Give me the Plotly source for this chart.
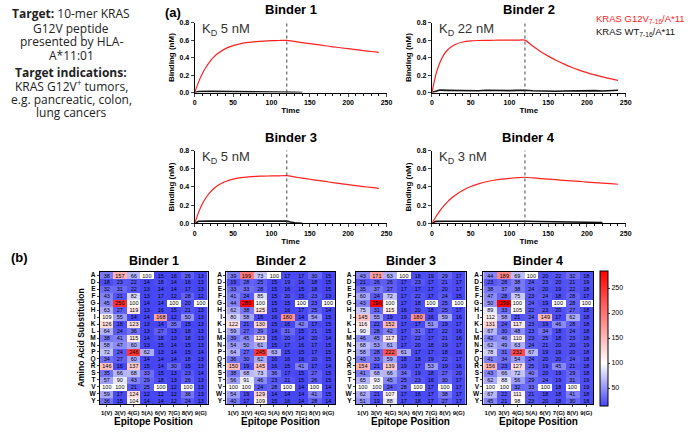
import plotly.graph_objects as go

W, H = 692, 433

# ---------------- data ----------------
amino_acids = ["A", "D", "E", "F", "G", "H", "I", "K", "L", "M", "N", "P", "Q", "R", "S", "T", "V", "W", "Y"]
positions = ["1(V)", "3(V)", "4(G)", "5(A)", "6(V)", "7(G)", "8(V)", "9(G)"]

binder1_heat = [
    [38, 157, 66, 100, 15, 16, 26, 13],
    [18, 23, 22, 14, 18, 14, 16, 13],
    [32, 31, 22, 13, 14, 14, 17, 13],
    [43, 21, 82, 13, 17, 12, 28, 12],
    [45, 250, 100, 14, 14, 100, 20, 100],
    [63, 27, 119, 13, 16, 15, 21, 13],
    [109, 55, 14, 14, 168, 12, 50, 13],
    [126, 18, 123, 13, 14, 35, 15, 13],
    [64, 24, 36, 13, 27, 13, 18, 13],
    [38, 41, 115, 14, 18, 13, 18, 13],
    [58, 47, 60, 13, 15, 14, 15, 13],
    [72, 24, 246, 62, 13, 14, 15, 14],
    [34, 27, 60, 14, 14, 14, 18, 13],
    [146, 16, 137, 15, 14, 30, 15, 13],
    [35, 66, 68, 33, 15, 13, 23, 14],
    [57, 90, 43, 29, 18, 13, 26, 13],
    [100, 100, 21, 25, 100, 12, 100, 13],
    [59, 17, 124, 12, 12, 12, 36, 13],
    [36, 15, 104, 14, 14, 12, 24, 13],
]
binder2_heat = [
    [39, 199, 73, 100, 17, 17, 30, 15],
    [19, 28, 25, 15, 19, 16, 18, 15],
    [33, 33, 28, 15, 16, 15, 18, 15],
    [41, 24, 85, 15, 20, 15, 23, 13],
    [44, 280, 100, 15, 15, 100, 23, 100],
    [62, 38, 125, 15, 16, 17, 25, 14],
    [80, 58, 16, 16, 180, 14, 54, 15],
    [122, 21, 130, 15, 16, 42, 17, 15],
    [59, 27, 39, 14, 31, 15, 21, 15],
    [39, 45, 123, 15, 20, 14, 20, 14],
    [54, 50, 61, 15, 17, 16, 17, 15],
    [64, 27, 245, 63, 15, 15, 17, 15],
    [36, 30, 62, 16, 16, 16, 20, 15],
    [150, 19, 145, 16, 15, 41, 17, 14],
    [38, 68, 73, 36, 17, 15, 27, 15],
    [56, 91, 46, 23, 21, 15, 26, 15],
    [100, 100, 24, 28, 100, 14, 100, 14],
    [54, 19, 129, 14, 14, 14, 41, 15],
    [40, 17, 109, 15, 16, 14, 28, 14],
]
binder3_heat = [
    [43, 171, 63, 100, 18, 19, 29, 17],
    [21, 26, 26, 17, 23, 17, 21, 17],
    [35, 37, 27, 17, 17, 17, 20, 17],
    [60, 24, 72, 17, 22, 17, 24, 15],
    [43, 296, 100, 17, 18, 100, 25, 100],
    [75, 31, 115, 16, 20, 18, 25, 17],
    [145, 55, 19, 19, 180, 16, 59, 16],
    [116, 22, 152, 17, 17, 51, 19, 17],
    [90, 28, 42, 17, 31, 17, 22, 16],
    [46, 45, 117, 17, 22, 17, 21, 16],
    [68, 53, 61, 17, 20, 18, 19, 17],
    [58, 28, 222, 61, 17, 17, 18, 16],
    [40, 33, 59, 18, 18, 19, 22, 17],
    [154, 21, 139, 19, 17, 53, 19, 16],
    [41, 68, 66, 34, 19, 18, 27, 20],
    [65, 93, 45, 25, 23, 16, 30, 17],
    [100, 100, 24, 28, 100, 17, 100, 17],
    [62, 21, 107, 17, 16, 17, 38, 17],
    [51, 19, 88, 17, 18, 17, 27, 17],
]
binder4_heat = [
    [44, 189, 69, 100, 20, 22, 32, 18],
    [23, 28, 38, 24, 23, 20, 21, 19],
    [38, 37, 38, 24, 20, 19, 22, 18],
    [47, 28, 75, 23, 24, 18, 28, 17],
    [50, 298, 100, 24, 19, 100, 28, 100],
    [89, 33, 105, 22, 23, 20, 27, 18],
    [112, 58, 21, 24, 149, 17, 62, 18],
    [131, 24, 117, 23, 19, 46, 28, 18],
    [67, 30, 48, 23, 34, 18, 24, 18],
    [42, 46, 110, 23, 25, 18, 23, 18],
    [62, 49, 63, 24, 21, 20, 20, 19],
    [78, 31, 232, 67, 19, 19, 20, 18],
    [41, 34, 54, 24, 20, 20, 24, 18],
    [156, 23, 127, 25, 19, 45, 21, 18],
    [43, 66, 72, 40, 20, 19, 29, 18],
    [62, 88, 56, 29, 24, 19, 31, 19],
    [100, 100, 32, 33, 100, 18, 100, 19],
    [67, 22, 111, 21, 18, 18, 41, 18],
    [45, 21, 98, 23, 20, 18, 30, 18],
]

# binding sensorgrams (time in s, binding in nM)
time_g12v = [0, 5, 10, 15, 20, 25, 30, 40, 50, 60, 70, 80, 90, 100, 110, 120,
             130, 140, 150, 160, 170, 180, 190, 200, 210, 220, 230, 240]
binder1_g12v = [0, 0.122, 0.219, 0.296, 0.358, 0.408, 0.447, 0.503, 0.538, 0.561, 0.575, 0.584, 0.590, 0.594, 0.596, 0.598,
                0.585, 0.572, 0.560, 0.548, 0.536, 0.524, 0.513, 0.502, 0.491, 0.480, 0.470, 0.460]
binder2_g12v = [0, 0.205, 0.339, 0.428, 0.487, 0.525, 0.551, 0.579, 0.591, 0.596, 0.598, 0.599, 0.600, 0.600, 0.600, 0.600,
                0.532, 0.471, 0.417, 0.370, 0.328, 0.290, 0.257, 0.228, 0.202, 0.179, 0.159, 0.140]
binder3_g12v = [0, 0.121, 0.215, 0.287, 0.342, 0.384, 0.417, 0.461, 0.487, 0.503, 0.512, 0.517, 0.520, 0.522, 0.523, 0.524,
                0.511, 0.498, 0.485, 0.473, 0.461, 0.449, 0.438, 0.427, 0.416, 0.405, 0.395, 0.385]
binder4_g12v = [0, 0.073, 0.136, 0.190, 0.237, 0.276, 0.310, 0.365, 0.406, 0.435, 0.458, 0.474, 0.486, 0.495, 0.502, 0.507,
                0.500, 0.493, 0.487, 0.480, 0.473, 0.467, 0.461, 0.454, 0.448, 0.442, 0.436, 0.430]

time_wt1 = [0, 5, 20, 40, 60, 80, 100, 120, 125, 130, 140]
binder1_wt = [0, 0.012, 0.013, 0.012, 0.013, 0.012, 0.013, 0.012, 0.008, 0.004, 0.0]
time_wt2 = [0, 10, 20, 30, 40, 50, 60, 70, 80, 90, 100, 110, 120, 130, 140, 150, 160, 170, 180, 190, 200, 210, 220, 230, 240]
binder2_wt = [0, 0.028, 0.025, 0.022, 0.027, 0.024, 0.020, 0.026, 0.023, 0.019, 0.022, 0.025, 0.027,
              0.020, 0.016, 0.012, 0.015, 0.018, 0.020, 0.016, 0.019, 0.022, 0.018, 0.024, 0.027]
time_wt3 = [0, 5, 20, 40, 60, 80, 100, 120, 125, 130, 140]
binder3_wt = [0, 0.024, 0.025, 0.025, 0.026, 0.025, 0.025, 0.025, 0.015, 0.007, 0.002]
time_wt4 = [0, 5, 20, 40, 60, 80, 100, 120, 140, 160, 180, 200, 220]
binder4_wt = [0, 0.022, 0.024, 0.025, 0.025, 0.025, 0.024, 0.024, 0.020, 0.017, 0.014, 0.012, 0.010]

binder_names = ["Binder 1", "Binder 2", "Binder 3", "Binder 4"]
kd_labels = ["5 nM", "22 nM", "5 nM", "3 nM"]
injection_end = 120

# ---------------- layout helpers ----------------
FONT = "Liberation Sans"
RED = "#ff2020"


def px_x(x):
    return x / W


def px_y(y):
    return 1 - y / H


fig = go.Figure()

# line plot panels: (left, right, top, bottom) in pixels
line_boxes = [(195, 389, 19, 90), (435, 631, 19, 90), (195, 389, 149, 223), (435, 631, 149, 223)]
g12v_series = [binder1_g12v, binder2_g12v, binder3_g12v, binder4_g12v]
wt_series = [(time_wt1, binder1_wt), (time_wt2, binder2_wt), (time_wt3, binder3_wt), (time_wt4, binder4_wt)]

annotations = []
shapes = []
layout_axes = {}

for i, (l, r, t, b) in enumerate(line_boxes):
    n = i + 1
    xa = "x" if n == 1 else f"x{n}"
    ya = "y" if n == 1 else f"y{n}"
    tw, vw = wt_series[i]
    fig.add_trace(go.Scatter(x=tw, y=vw, mode="lines", line=dict(color="#111111", width=1.6),
                             xaxis=xa, yaxis=ya, showlegend=False, hoverinfo="skip"))
    fig.add_trace(go.Scatter(x=time_g12v, y=g12v_series[i], mode="lines",
                             line=dict(color=RED, width=1.2, shape="spline", smoothing=0.6),
                             xaxis=xa, yaxis=ya, showlegend=False))
    layout_axes[f"xaxis{'' if n == 1 else n}"] = dict(
        domain=[px_x(l), px_x(r)], anchor=ya, range=[0, 250], dtick=50, showgrid=False, zeroline=False,
        showline=True, linecolor="black", linewidth=1.2, ticks="outside", ticklen=3, tickwidth=1,
        tickfont=dict(family=FONT, size=7, weight="bold", color="black"),
        minor=dict(dtick=10, ticks="outside", ticklen=2, tickwidth=0.8, tickcolor="black"),
        title=dict(text="<b>Time</b>", font=dict(family=FONT, size=8, color="black"), standoff=2),
    )
    layout_axes[f"yaxis{'' if n == 1 else n}"] = dict(
        domain=[px_y(b), px_y(t)], anchor=xa, range=[0, 0.8], dtick=0.2, tickformat=".1f",
        showgrid=False, zeroline=False, showline=True, linecolor="black", linewidth=1.2,
        ticks="outside", ticklen=3, tickwidth=1,
        tickfont=dict(family=FONT, size=7, weight="bold", color="black"),
        title=dict(text="<b>Binding (nM)</b>", font=dict(family=FONT, size=8, color="black"), standoff=3),
    )
    shapes.append(dict(type="line", xref=xa, yref=f"{ya} domain", x0=injection_end, x1=injection_end,
                       y0=0, y1=1, line=dict(color="#444444", width=1, dash="dot")))
    annotations.append(dict(text=f"<b>{binder_names[i]}</b>", x=px_x((l + r) / 2), y=px_y(t - 13),
                            xref="paper", yref="paper", showarrow=False, xanchor="center", yanchor="middle",
                            font=dict(family=FONT, size=13, color="black")))
    annotations.append(dict(text=f"K<sub>D</sub> {kd_labels[i]}", x=px_x(l + 5), y=px_y(t + 7),
                            xref="paper", yref="paper", showarrow=False, xanchor="left", yanchor="middle",
                            font=dict(family=FONT, size=13, color="#333333")))

# heatmaps
heat_boxes = [(99, 208), (227, 337), (358, 469), (487, 598)]
heat_top, heat_bottom = 272, 407
heat_data = [binder1_heat, binder2_heat, binder3_heat, binder4_heat]
zmin, zmax = 15, 285
white_pos = (100 - zmin) / (zmax - zmin)
cscale = [[0, "#4646f5"], [white_pos, "#ffffff"], [1, "#ff0000"]]

for i, (l, r) in enumerate(heat_boxes):
    n = 5 + i
    xa, ya = f"x{n}", f"y{n}"
    fig.add_trace(go.Heatmap(
        z=heat_data[i], x=positions, y=amino_acids, xaxis=xa, yaxis=ya,
        zmin=zmin, zmax=zmax, colorscale=cscale,
        texttemplate="%{z}", textfont=dict(family=FONT, size=5.5, color="black"),
        showscale=(i == 3),
        colorbar=dict(x=px_x(605), xanchor="left", y=px_y((heat_top + heat_bottom) / 2), yanchor="middle",
                      lenmode="pixels", len=heat_bottom - heat_top, thickness=8,
                      outlinewidth=1, outlinecolor="black", tickvals=[50, 100, 150, 200, 250],
                      ticks="outside", ticklen=2, tickfont=dict(family=FONT, size=7, color="black"),
                      xpad=0, ypad=0),
    ))
    layout_axes[f"xaxis{n}"] = dict(
        domain=[px_x(l), px_x(r)], anchor=ya, showgrid=False, zeroline=False, showline=True, mirror=True,
        linecolor="black", linewidth=1, ticks="outside", ticklen=2, tickangle=0,
        tickmode="array", tickvals=positions, ticktext=positions,
        tickfont=dict(family=FONT, size=6, weight="bold", color="black"),
    )
    layout_axes[f"yaxis{n}"] = dict(
        domain=[px_y(heat_bottom), px_y(heat_top)], anchor=xa, autorange="reversed", showgrid=False,
        zeroline=False, showline=True, mirror=True, linecolor="black", linewidth=1, ticks="outside", ticklen=2,
        tickmode="array", tickvals=amino_acids, ticktext=amino_acids,
        tickfont=dict(family=FONT, size=6.5, weight="bold", color="black"),
    )
    annotations.append(dict(text=f"<b>{binder_names[i]}</b>", x=px_x((l + r) / 2), y=px_y(261),
                            xref="paper", yref="paper", showarrow=False, xanchor="center", yanchor="middle",
                            font=dict(family=FONT, size=12.5, color="black")))
    annotations.append(dict(text="<b>Epitope Position</b>", x=px_x((l + r) / 2), y=px_y(424),
                            xref="paper", yref="paper", showarrow=False, xanchor="center", yanchor="middle",
                            font=dict(family=FONT, size=10, color="black")))

annotations.append(dict(text="<b>Amino Acid Substitution</b>", x=px_x(80), y=px_y((heat_top + heat_bottom) / 2),
                        xref="paper", yref="paper", showarrow=False, textangle=-90,
                        xanchor="center", yanchor="middle", font=dict(family=FONT, size=8.5, color="black")))

# legend text
annotations.append(dict(text="KRAS G12V<sub>7-16</sub>/A*11", x=px_x(599), y=px_y(15), xref="paper", yref="paper",
                        showarrow=False, xanchor="left", yanchor="middle",
                        font=dict(family=FONT, size=9.5, color=RED)))
annotations.append(dict(text="KRAS WT<sub>7-16</sub>/A*11", x=px_x(599), y=px_y(28), xref="paper", yref="paper",
                        showarrow=False, xanchor="left", yanchor="middle",
                        font=dict(family=FONT, size=9.5, color="#111111")))

# panel labels
annotations.append(dict(text="<b>(a)</b>", x=px_x(173), y=px_y(9), xref="paper", yref="paper", showarrow=False,
                        xanchor="center", yanchor="middle", font=dict(family=FONT, size=13, color="black")))
annotations.append(dict(text="<b>(b)</b>", x=px_x(18), y=px_y(258), xref="paper", yref="paper", showarrow=False,
                        xanchor="center", yanchor="middle", font=dict(family=FONT, size=13, color="black")))

# left description text
left_lines = [
    ("<b>Target:</b> 10-mer KRAS", 10),
    ("G12V peptide", 25),
    ("presented by HLA-", 38),
    ("A*11:01", 52),
    ("<b>Target indications:</b>", 70),
    ("KRAS G12V<sup>+</sup> tumors,", 83),
    ("e.g. pancreatic, colon,", 97),
    ("lung cancers", 110),
]
for txt, yy in left_lines:
    annotations.append(dict(text=txt, x=px_x(70), y=px_y(yy), xref="paper", yref="paper", showarrow=False,
                            xanchor="center", yanchor="middle",
                            font=dict(family="Open Sans", size=12, color="#222222")))

fig.update_layout(
    width=W, height=H, margin=dict(l=0, r=0, t=0, b=0),
    paper_bgcolor="white", plot_bgcolor="white",
    annotations=annotations, shapes=shapes, showlegend=False,
    **layout_axes,
)

fig.write_html("out.html", config={"displayModeBar": False},
               post_script="document.body.style.margin='0';document.body.style.overflow='hidden';")
